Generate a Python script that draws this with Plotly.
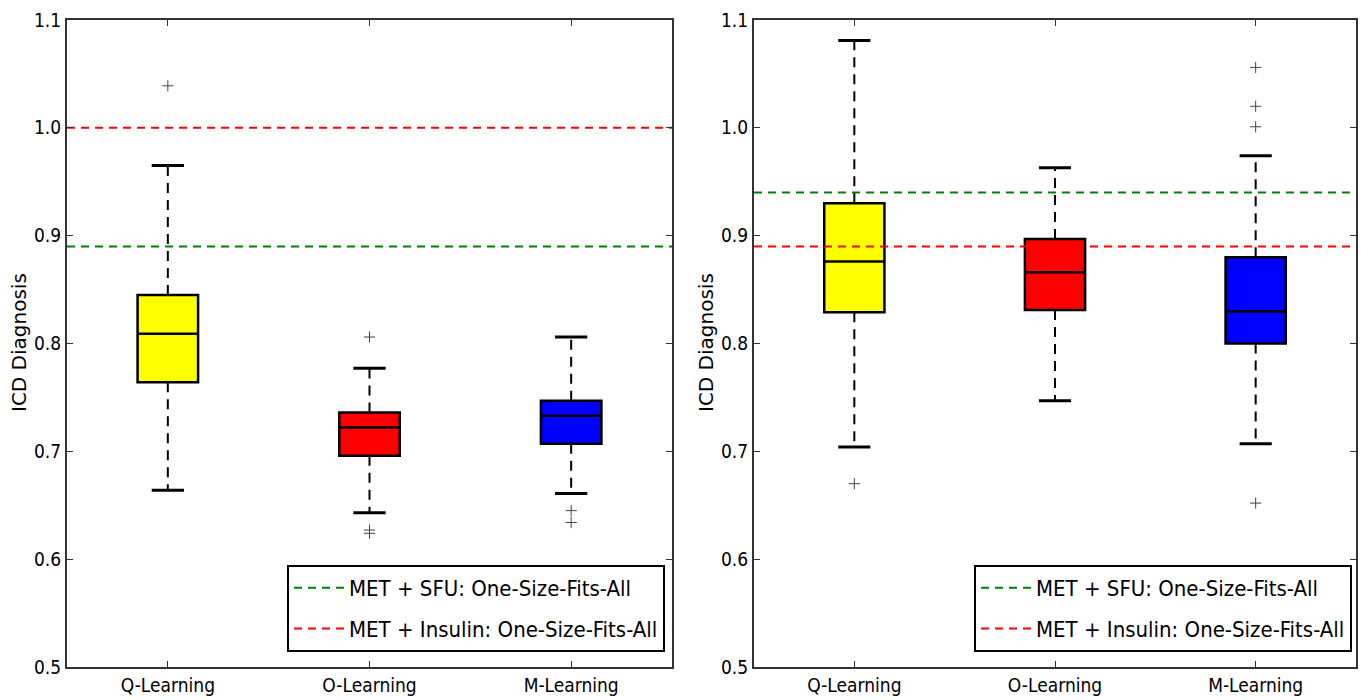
import plotly.graph_objects as go

categories = ["Q-Learning", "O-Learning", "M-Learning"]
positions = [1, 2, 3]
box_colors = ["#ffff00", "#ff0000", "#0000ff"]

# Left panel
left_q1 = [0.764, 0.696, 0.707]
left_median = [0.809, 0.722, 0.733]
left_q3 = [0.845, 0.736, 0.747]
left_low = [0.664, 0.643, 0.661]
left_high = [0.965, 0.777, 0.806]
left_outliers = [[1.039], [0.806, 0.627, 0.624], [0.645, 0.634]]
left_sfu = 0.89
left_insulin = 1.0

# Right panel
right_q1 = [0.829, 0.831, 0.800]
right_median = [0.876, 0.866, 0.830]
right_q3 = [0.930, 0.897, 0.880]
right_low = [0.704, 0.747, 0.707]
right_high = [1.081, 0.963, 0.974]
right_outliers = [[0.670], [], [1.056, 1.020, 1.001, 0.652]]
right_sfu = 0.94
right_insulin = 0.89

y_ticks = [0.5, 0.6, 0.7, 0.8, 0.9, 1.0, 1.1]
legend_labels = ["MET + SFU: One-Size-Fits-All", "MET + Insulin: One-Size-Fits-All"]

BOX_W = 0.3
CAP_W = 0.15
NARROW = "Liberation Sans Narrow, DejaVu Sans Condensed, Arial Narrow, sans-serif"

fig = go.Figure()


def add_panel(xa, ya, legend, q1, med, q3, low, high, outl, sfu, ins):
    # reference lines
    for val, col, name, grp in [(sfu, "#008000", legend_labels[0], "a"),
                                (ins, "#ff0000", legend_labels[1], "b")]:
        fig.add_trace(go.Scatter(
            x=[0.5, 3.5], y=[val, val], mode="lines",
            line=dict(color=col, width=2, dash="8px,6px"),
            name=name, legend=legend, legendgroup=legend + grp,
            xaxis=xa, yaxis=ya, showlegend=True, hoverinfo="skip"))
    for i, p in enumerate(positions):
        # whiskers (dashed)
        fig.add_trace(go.Scatter(
            x=[p, p, None, p, p], y=[q3[i], high[i], None, q1[i], low[i]],
            mode="lines", line=dict(color="black", width=2, dash="10px,7px"),
            xaxis=xa, yaxis=ya, showlegend=False, hoverinfo="skip"))
        # caps
        fig.add_trace(go.Scatter(
            x=[p - CAP_W / 2 - 0.005, p + CAP_W / 2 + 0.005, None,
               p - CAP_W / 2 - 0.005, p + CAP_W / 2 + 0.005],
            y=[high[i], high[i], None, low[i], low[i]],
            mode="lines", line=dict(color="black", width=3),
            xaxis=xa, yaxis=ya, showlegend=False, hoverinfo="skip"))
        # box
        fig.add_trace(go.Box(
            x=[p], q1=[q1[i]], median=[med[i]], q3=[q3[i]],
            lowerfence=[q1[i]], upperfence=[q3[i]],
            width=BOX_W, whiskerwidth=0, fillcolor=box_colors[i],
            line=dict(color="black", width=2.5), boxpoints=False,
            xaxis=xa, yaxis=ya, showlegend=False, hoverinfo="skip"))
        # outliers
        if outl[i]:
            fig.add_trace(go.Scatter(
                x=[p] * len(outl[i]), y=outl[i], mode="markers",
                marker=dict(symbol="cross-thin", size=8,
                            line=dict(color="#444444", width=1)),
                xaxis=xa, yaxis=ya, showlegend=False, hoverinfo="skip"))


add_panel("x", "y", "legend", left_q1, left_median, left_q3, left_low,
          left_high, left_outliers, left_sfu, left_insulin)
add_panel("x2", "y2", "legend2", right_q1, right_median, right_q3, right_low,
          right_high, right_outliers, right_sfu, right_insulin)

axis_common = dict(showgrid=False, zeroline=False, showline=True,
                   linecolor="#333333", linewidth=2, mirror="ticks",
                   ticks="inside", ticklen=6, tickcolor="#333333",
                   automargin=False,
                   tickfont=dict(family=NARROW, size=19, color="black"))

top = 1 - 20 / 700
bot = 1 - 667 / 700
legend_common = dict(y=1 - 652 / 700, xanchor="right", yanchor="bottom",
                     bgcolor="white", bordercolor="black", borderwidth=2,
                     font=dict(family=NARROW, size=22, color="black"),
                     tracegroupgap=9, itemwidth=50)
fig.update_layout(
    width=1361, height=700, margin=dict(l=0, r=0, t=0, b=0),
    paper_bgcolor="white", plot_bgcolor="white", boxmode="overlay",
    showlegend=True,
    xaxis=dict(domain=[67 / 1361, 672 / 1361], range=[0.5, 3.5],
               tickvals=positions, ticktext=categories, **axis_common),
    yaxis=dict(domain=[bot, top], range=[0.5, 1.1], tickvals=y_ticks,
               tickformat=".1f", **axis_common),
    xaxis2=dict(domain=[754 / 1361, 1356 / 1361], range=[0.5, 3.5],
                tickvals=positions, ticktext=categories, anchor="y2",
                **axis_common),
    yaxis2=dict(domain=[bot, top], range=[0.5, 1.1], tickvals=y_ticks,
                tickformat=".1f", anchor="x2", **axis_common),
    legend=dict(x=665 / 1361, **legend_common),
    legend2=dict(x=1352 / 1361, **legend_common),
    annotations=[
        dict(text="ICD Diagnosis", x=19 / 1361, y=(1 - 343 / 700), xref="paper",
             yref="paper", textangle=-90, showarrow=False,
             xanchor="center", yanchor="middle",
             font=dict(family="DejaVu Sans", size=20, color="black")),
        dict(text="ICD Diagnosis", x=706 / 1361, y=(1 - 343 / 700), xref="paper",
             yref="paper", textangle=-90, showarrow=False,
             xanchor="center", yanchor="middle",
             font=dict(family="DejaVu Sans", size=20, color="black")),
    ],
)

fig.write_html("out.html")
